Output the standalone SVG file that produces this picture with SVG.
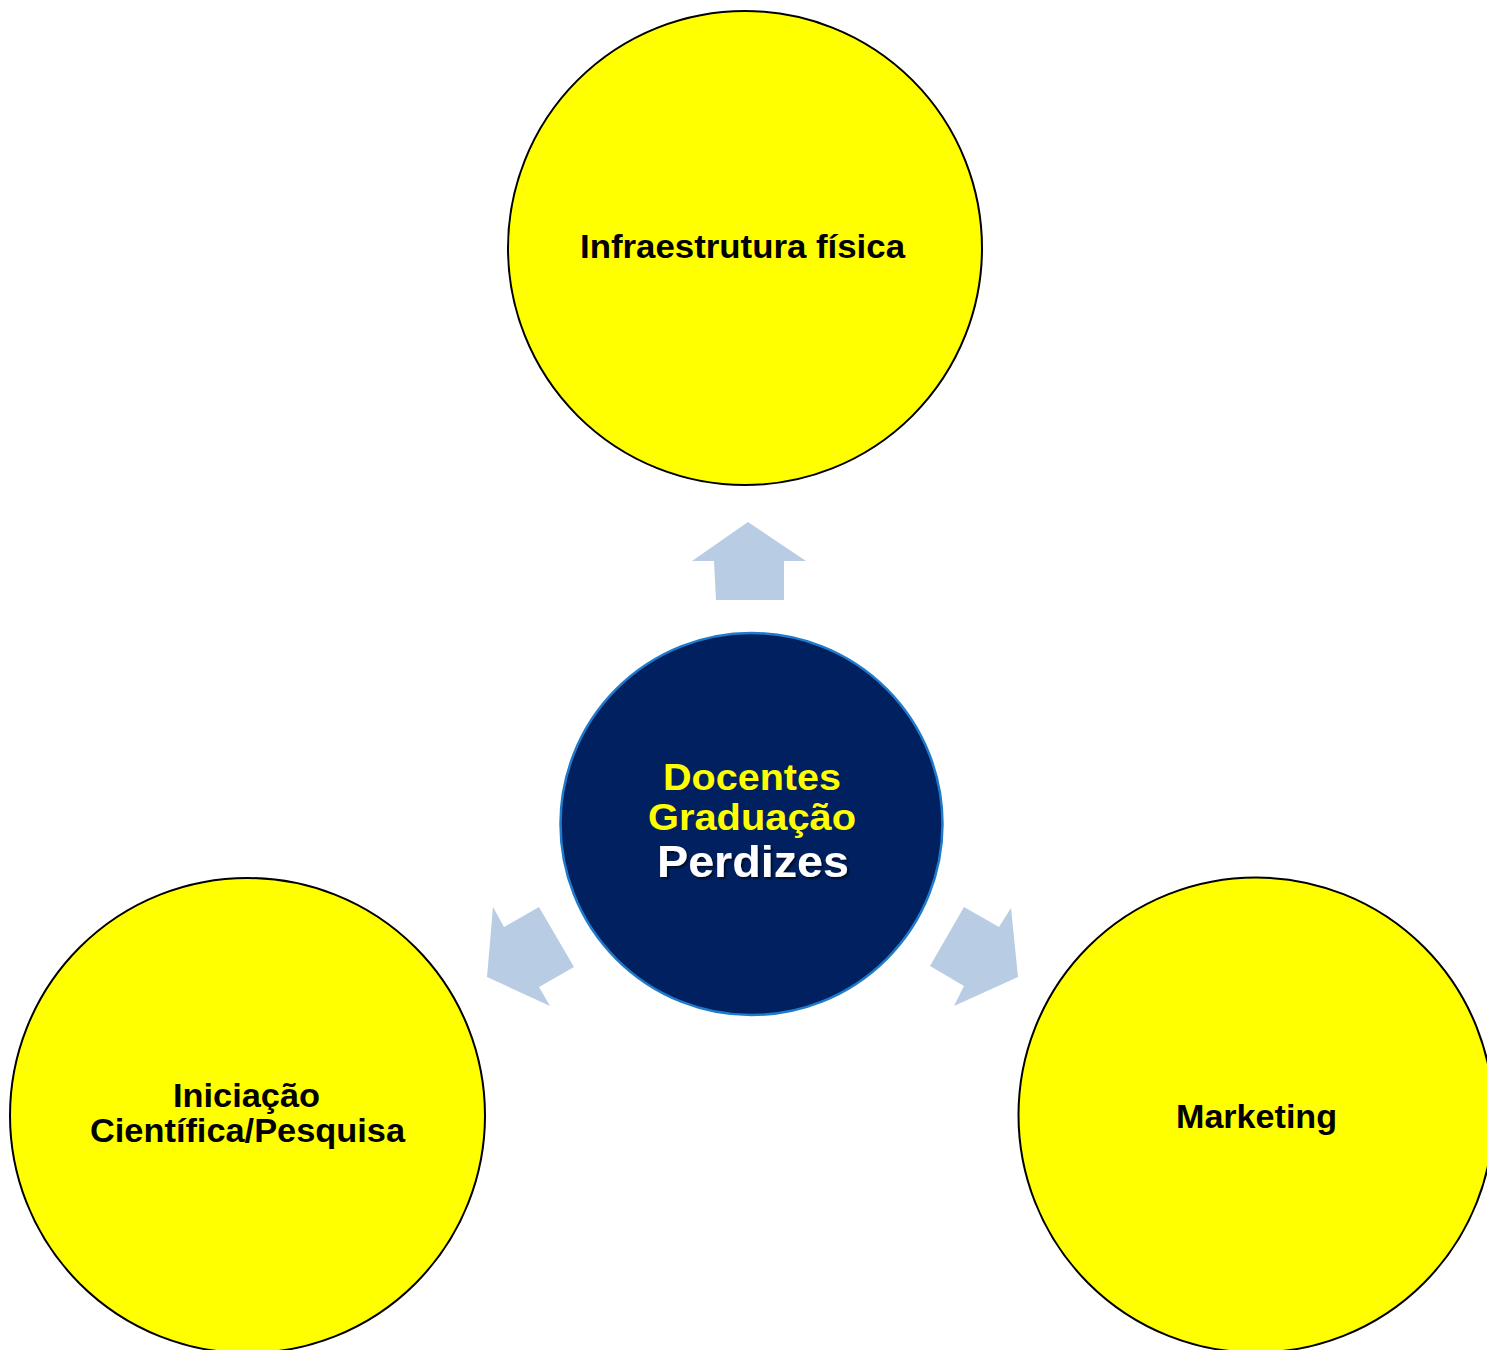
<svg xmlns="http://www.w3.org/2000/svg" width="1487" height="1350" viewBox="0 0 1487 1350">
<defs>
<style>
.sat{fill:#FFFF00;stroke:#000;stroke-width:2}
.lbl{font-family:"Liberation Sans",Arial,sans-serif;font-weight:bold;font-size:34px;fill:#000;text-anchor:middle}
.arr{fill:#B8CCE4}
.ctr{font-family:"Liberation Sans",Arial,sans-serif;font-weight:bold;text-anchor:middle}
</style>
<filter id="sh" x="-10%" y="-20%" width="130%" height="150%">
<feDropShadow dx="2" dy="2" stdDeviation="1" flood-color="#000" flood-opacity="0.6"/>
</filter>
</defs>
<g id="connectors">
<polygon class="arr" points="748,522 806,561 784,561 784,600 716,600 714,561 692,561"/>
<polygon class="arr" points="493,907 504,927 539,907 574,967 539,987 550,1006 487,977"/>
<polygon class="arr" points="1011,908 1018,977 954,1006 964,986 930,966 964,907 999,927"/>
</g>
<g id="node-top">
<circle class="sat" cx="745" cy="248" r="237"/>
<text class="lbl" x="742.5" y="258" textLength="325" lengthAdjust="spacingAndGlyphs">Infraestrutura física</text>
</g>
<g id="node-left">
<circle class="sat" cx="247.5" cy="1115.5" r="237.5"/>
<text class="lbl" x="246.5" y="1107" textLength="147" lengthAdjust="spacingAndGlyphs">Iniciação</text>
<text class="lbl" x="247.5" y="1142" textLength="315" lengthAdjust="spacingAndGlyphs">Científica/Pesquisa</text>
</g>
<g id="node-right">
<circle class="sat" cx="1256" cy="1115" r="237.5"/>
<text class="lbl" x="1256.5" y="1128" textLength="161" lengthAdjust="spacingAndGlyphs">Marketing</text>
</g>
<g id="node-center">
<circle cx="751.5" cy="824" r="191" fill="#002060" stroke="#1F7ACB" stroke-width="2.5"/>
<text class="ctr" x="752" y="790" font-size="37" fill="#FFFF00" textLength="178" lengthAdjust="spacingAndGlyphs">Docentes</text>
<text class="ctr" x="752" y="830" font-size="37" fill="#FFFF00" textLength="208" lengthAdjust="spacingAndGlyphs">Graduação</text>
<text class="ctr" x="753" y="877" font-size="44" fill="#FFFFFF" filter="url(#sh)" textLength="192" lengthAdjust="spacingAndGlyphs">Perdizes</text>
</g>
</svg>
